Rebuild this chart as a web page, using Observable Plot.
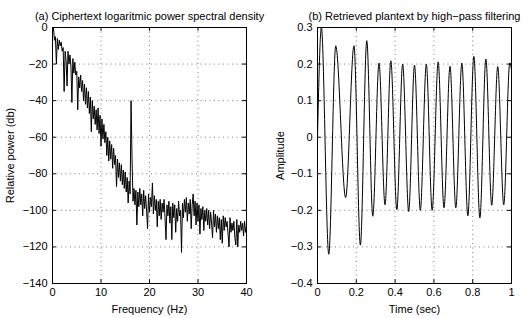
<!DOCTYPE html>
<html><head><meta charset="utf-8">
<script src="https://cdn.jsdelivr.net/npm/d3@7"></script>
<script src="https://cdn.jsdelivr.net/npm/@observablehq/plot@0.6"></script>
<style>
body{margin:0;background:#fff;}
#wrap{position:relative;width:527px;height:318px;overflow:hidden;background:#fff;}
#wrap svg{position:absolute;top:0;}
</style></head><body><div id="wrap"></div>
<script>
// (a) power spectral density, one value every 0.2 Hz from 0 to 40 Hz
const psdStepHz = 0.2;
const psdDb = [
  -3, 0, -7, -5, -20,
  -6, -12, -7, -10, -8,
  -13, -11, -35, -13, -18,
  -32, -13, -20, -15, -21,
  -41, -17, -25, -19, -26,
  -24, -45, -27, -33, -26,
  -35, -29, -40, -31, -42,
  -33, -44, -35, -47, -38,
  -57, -40, -50, -43, -53,
  -45, -56, -44, -58, -48,
  -65, -50, -61, -53, -63,
  -57, -70, -60, -73, -62,
  -72, -64, -77, -66, -75,
  -70, -87, -72, -82, -74,
  -84, -75, -86, -78, -88,
  -79, -90, -82, -96, -84,
  -91, -40, -72, -95, -88,
  -97, -89, -108, -90, -98,
  -88, -97, -91, -103, -89,
  -99, -92, -100, -110, -91,
  -101, -93, -98, -85, -102,
  -92, -100, -94, -109, -95,
  -103, -94, -105, -96, -101,
  -94, -104, -116, -97, -103,
  -95, -107, -98, -116, -96,
  -104, -97, -112, -99, -106,
  -95, -103, -100, -123, -96,
  -104, -94, -101, -93, -106,
  -96, -102, -94, -110, -97,
  -91, -103, -95, -108, -96,
  -106, -97, -113, -99, -105,
  -98, -111, -100, -106, -99,
  -108, -100, -110, -101, -107,
  -115, -100, -109, -102, -112,
  -103, -110, -104, -116, -105,
  -118, -103, -111, -104, -109,
  -106, -113, -120, -104, -112,
  -107, -111, -106, -115, -119,
  -105, -120, -108, -112, -106,
  -111, -107, -114, -106, -112,
  -108
];
const freqTicks = [0, 10, 20, 30, 40];
const dbTicks = [-140, -120, -100, -80, -60, -40, -20, 0];

// (b) retrieved plaintext: turning points of the waveform
const timeSec = [0, 0.020, 0.058, 0.094, 0.145, 0.188, 0.221, 0.254, 0.285, 0.317, 0.348, 0.378, 0.409, 0.439, 0.470, 0.500, 0.530, 0.561, 0.591, 0.622, 0.652, 0.683, 0.713, 0.744, 0.775, 0.806, 0.837, 0.868, 0.898, 0.929, 0.960, 0.991, 1.0];
const amplitude = [0.0, 0.30, -0.32, 0.25, -0.165, 0.25, -0.295, 0.264, -0.216, 0.203, -0.185, 0.209, -0.198, 0.20, -0.203, 0.197, -0.20, 0.20, -0.20, 0.206, -0.193, 0.194, -0.193, 0.203, -0.215, 0.221, -0.221, 0.214, -0.186, 0.193, -0.185, 0.203, 0.185];
const timeTicks = [0, 0.2, 0.4, 0.6, 0.8, 1];
const ampTicks = [-0.4, -0.3, -0.2, -0.1, 0, 0.1, 0.2, 0.3];

const titleA = "(a) Ciphertext logaritmic power spectral density";
const titleB = "(b) Retrieved plantext by high\u2212pass filtering";
const xLabelA = "Frequency (Hz)", yLabelA = "Relative power (db)";
const xLabelB = "Time (sec)", yLabelB = "Amplitude";

const font = "'Liberation Sans', Arial, Helvetica, sans-serif";
const fmt = d3.format("~g");
const gridStyle = {stroke: "#000", strokeOpacity: 0.5, strokeDasharray: "1,3.5", strokeWidth: 1};

const psd = psdDb.map((v, i) => ({f: +(i * psdStepHz).toFixed(1), db: v}));
const sig = timeSec.map((t, i) => ({t, a: amplitude[i]}));

function panel({width, marginLeft, marginRight, xDomain, yDomain, xTicks, yTicks, xLen, yLen, marks, title, xLabel, yLabel, yLabelOffset}) {
  return Plot.plot({
    width, height: 318, marginLeft, marginRight, marginTop: 27, marginBottom: 35,
    style: {fontSize: "11px", fontFamily: font, color: "#000", background: "transparent", overflow: "visible"},
    x: {domain: xDomain}, y: {domain: yDomain},
    marks: [
      Plot.gridX(xTicks.slice(1, -1), gridStyle),
      Plot.gridY(yTicks.slice(1, -1), gridStyle),
      // inward tick marks on all four sides
      Plot.ruleX(xTicks, {y1: yDomain[0], y2: yDomain[0] + yLen, stroke: "#000"}),
      Plot.ruleX(xTicks, {y1: yDomain[1], y2: yDomain[1] - yLen, stroke: "#000"}),
      Plot.ruleY(yTicks, {x1: xDomain[0], x2: xDomain[0] + xLen, stroke: "#000"}),
      Plot.ruleY(yTicks, {x1: xDomain[1], x2: xDomain[1] - xLen, stroke: "#000"}),
      ...marks,
      Plot.frame({stroke: "#000", strokeWidth: 1}),
      Plot.axisX({ticks: xTicks, tickSize: 0, tickPadding: 5, tickFormat: fmt, label: xLabel, labelAnchor: "center", labelArrow: "none", labelOffset: 29}),
      Plot.axisY({ticks: yTicks, tickSize: 0, tickPadding: 5, tickFormat: fmt, label: yLabel, labelAnchor: "center", labelArrow: "none", labelOffset: yLabelOffset}),
      Plot.text([title], {frameAnchor: "top", lineAnchor: "bottom", dy: -8, fontSize: 11})
    ]
  });
}

const left = panel({
  width: 263, marginLeft: 52, marginRight: 17,
  xDomain: [0, 40], yDomain: [-140, 0], xTicks: freqTicks, yTicks: dbTicks,
  xLen: 0.8, yLen: 2,
  marks: [Plot.line(psd, {x: "f", y: "db", stroke: "#000", strokeWidth: 1})],
  title: titleA, xLabel: xLabelA, yLabel: yLabelA, yLabelOffset: 46
});
left.style.left = "0px";

const right = panel({
  width: 264, marginLeft: 54, marginRight: 16,
  xDomain: [0, 1], yDomain: [-0.4, 0.3], xTicks: timeTicks, yTicks: ampTicks,
  xLen: 0.02, yLen: 0.01,
  marks: [Plot.line(sig, {x: "t", y: "a", curve: "monotone-x", stroke: "#000", strokeWidth: 1})],
  title: titleB, xLabel: xLabelB, yLabel: yLabelB, yLabelOffset: 41
});
right.style.left = "263px";

const wrap = document.getElementById("wrap");
wrap.appendChild(left);
wrap.appendChild(right);
</script>
</body></html>
